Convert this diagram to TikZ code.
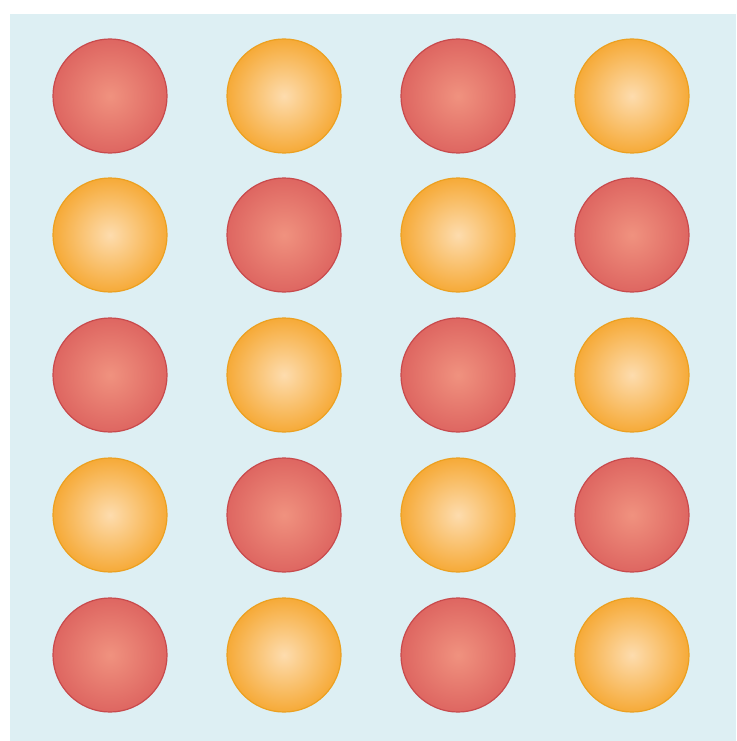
\documentclass[tikz,border=0pt]{standalone}
\usetikzlibrary{shadings}
\definecolor{bgblue}{HTML}{DDEFF3}
\definecolor{redin}{HTML}{F0927F}
\definecolor{redout}{HTML}{DE6661}
\definecolor{redrim}{HTML}{C84A4C}
\definecolor{orin}{HTML}{FDDCAE}
\definecolor{orout}{HTML}{F6AA38}
\definecolor{orrim}{HTML}{ECA020}
\tikzset{
  redball/.style={circle, minimum size=114pt, inner sep=0pt, draw=redrim, line width=1.2pt,
    shading=radial, inner color=redin, outer color=redout},
  orball/.style={circle, minimum size=114pt, inner sep=0pt, draw=orrim, line width=1.2pt,
    shading=radial, inner color=orin, outer color=orout},
}
\begin{document}
\begin{tikzpicture}[x=1pt,y=-1pt]
\useasboundingbox (0,0) rectangle (736,741);
\fill[white] (0,0) rectangle (736,741);
\fill[bgblue] (10,14) rectangle (736,741);
\foreach \r/\y in {0/96,1/235,2/375,3/515,4/655}{
  \foreach \c/\x in {0/110,1/284,2/458,3/632}{
    \pgfmathtruncatemacro{\parity}{mod(\r+\c,2)}
    \ifnum\parity=0
      \node[redball] (s\r\c) at (\x,\y) {};
    \else
      \node[orball] (s\r\c) at (\x,\y) {};
    \fi
  }
}
\end{tikzpicture}
\end{document}
